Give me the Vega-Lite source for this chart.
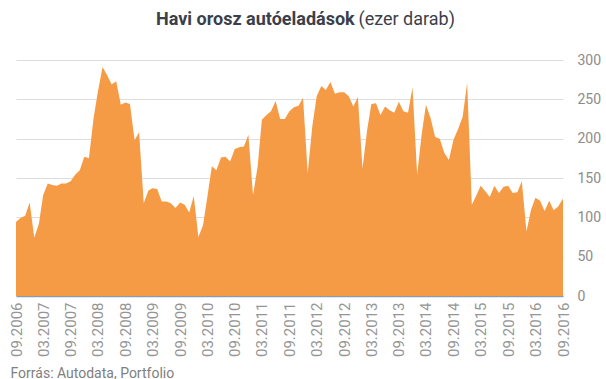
{
  "$schema": "https://vega.github.io/schema/vega-lite/v6.json",
  "autosize": "none",
  "width": 547,
  "height": 236,
  "padding": {"left": 16, "top": 60, "right": 43, "bottom": 83},
  "background": "white",
  "title": {
    "text": "Havi orosz autóeladások",
    "anchor": "start",
    "align": "left",
    "dx": 147,
    "offset": -19,
    "font": "Roboto",
    "fontSize": 18,
    "fontWeight": "bold",
    "color": "#3a3f4a"
  },
  "config": {
    "view": {"stroke": null},
    "font": "Roboto"
  },
  "data": {
    "values": [
      {"d": "2006-09-01", "v": 94}, {"d": "2006-10-01", "v": 99}, {"d": "2006-11-01", "v": 102}, {"d": "2006-12-01", "v": 119},
      {"d": "2007-01-01", "v": 74}, {"d": "2007-02-01", "v": 92}, {"d": "2007-03-01", "v": 128}, {"d": "2007-04-01", "v": 143},
      {"d": "2007-05-01", "v": 141}, {"d": "2007-06-01", "v": 140}, {"d": "2007-07-01", "v": 143}, {"d": "2007-08-01", "v": 143},
      {"d": "2007-09-01", "v": 146}, {"d": "2007-10-01", "v": 154}, {"d": "2007-11-01", "v": 160}, {"d": "2007-12-01", "v": 177},
      {"d": "2008-01-01", "v": 175}, {"d": "2008-02-01", "v": 226}, {"d": "2008-03-01", "v": 260}, {"d": "2008-04-01", "v": 291},
      {"d": "2008-05-01", "v": 281}, {"d": "2008-06-01", "v": 269}, {"d": "2008-07-01", "v": 273}, {"d": "2008-08-01", "v": 243},
      {"d": "2008-09-01", "v": 246}, {"d": "2008-10-01", "v": 244}, {"d": "2008-11-01", "v": 198}, {"d": "2008-12-01", "v": 208},
      {"d": "2009-01-01", "v": 118}, {"d": "2009-02-01", "v": 134}, {"d": "2009-03-01", "v": 137}, {"d": "2009-04-01", "v": 136},
      {"d": "2009-05-01", "v": 120}, {"d": "2009-06-01", "v": 120}, {"d": "2009-07-01", "v": 118}, {"d": "2009-08-01", "v": 112},
      {"d": "2009-09-01", "v": 119}, {"d": "2009-10-01", "v": 116}, {"d": "2009-11-01", "v": 106}, {"d": "2009-12-01", "v": 127},
      {"d": "2010-01-01", "v": 75}, {"d": "2010-02-01", "v": 90}, {"d": "2010-03-01", "v": 125}, {"d": "2010-04-01", "v": 165},
      {"d": "2010-05-01", "v": 160}, {"d": "2010-06-01", "v": 176}, {"d": "2010-07-01", "v": 177}, {"d": "2010-08-01", "v": 171},
      {"d": "2010-09-01", "v": 187}, {"d": "2010-10-01", "v": 189}, {"d": "2010-11-01", "v": 190}, {"d": "2010-12-01", "v": 205},
      {"d": "2011-01-01", "v": 128}, {"d": "2011-02-01", "v": 165}, {"d": "2011-03-01", "v": 224}, {"d": "2011-04-01", "v": 230},
      {"d": "2011-05-01", "v": 235}, {"d": "2011-06-01", "v": 248}, {"d": "2011-07-01", "v": 225}, {"d": "2011-08-01", "v": 225},
      {"d": "2011-09-01", "v": 235}, {"d": "2011-10-01", "v": 240}, {"d": "2011-11-01", "v": 242}, {"d": "2011-12-01", "v": 252},
      {"d": "2012-01-01", "v": 156}, {"d": "2012-02-01", "v": 216}, {"d": "2012-03-01", "v": 254}, {"d": "2012-04-01", "v": 267},
      {"d": "2012-05-01", "v": 262}, {"d": "2012-06-01", "v": 272}, {"d": "2012-07-01", "v": 257}, {"d": "2012-08-01", "v": 259},
      {"d": "2012-09-01", "v": 259}, {"d": "2012-10-01", "v": 254}, {"d": "2012-11-01", "v": 241}, {"d": "2012-12-01", "v": 253},
      {"d": "2013-01-01", "v": 162}, {"d": "2013-02-01", "v": 211}, {"d": "2013-03-01", "v": 244}, {"d": "2013-04-01", "v": 245},
      {"d": "2013-05-01", "v": 230}, {"d": "2013-06-01", "v": 241}, {"d": "2013-07-01", "v": 236}, {"d": "2013-08-01", "v": 233},
      {"d": "2013-09-01", "v": 247}, {"d": "2013-10-01", "v": 235}, {"d": "2013-11-01", "v": 233}, {"d": "2013-12-01", "v": 265},
      {"d": "2014-01-01", "v": 154}, {"d": "2014-02-01", "v": 207}, {"d": "2014-03-01", "v": 243}, {"d": "2014-04-01", "v": 226},
      {"d": "2014-05-01", "v": 202}, {"d": "2014-06-01", "v": 200}, {"d": "2014-07-01", "v": 182}, {"d": "2014-08-01", "v": 173},
      {"d": "2014-09-01", "v": 199}, {"d": "2014-10-01", "v": 212}, {"d": "2014-11-01", "v": 228}, {"d": "2014-12-01", "v": 271},
      {"d": "2015-01-01", "v": 116}, {"d": "2015-02-01", "v": 128}, {"d": "2015-03-01", "v": 140}, {"d": "2015-04-01", "v": 133},
      {"d": "2015-05-01", "v": 126}, {"d": "2015-06-01", "v": 140}, {"d": "2015-07-01", "v": 131}, {"d": "2015-08-01", "v": 139},
      {"d": "2015-09-01", "v": 140}, {"d": "2015-10-01", "v": 131}, {"d": "2015-11-01", "v": 132}, {"d": "2015-12-01", "v": 146},
      {"d": "2016-01-01", "v": 82}, {"d": "2016-02-01", "v": 110}, {"d": "2016-03-01", "v": 125}, {"d": "2016-04-01", "v": 121},
      {"d": "2016-05-01", "v": 108}, {"d": "2016-06-01", "v": 121}, {"d": "2016-07-01", "v": 109}, {"d": "2016-08-01", "v": 114},
      {"d": "2016-09-01", "v": 124}
    ]
  },
  "mark": {"type": "area", "color": "#f59b46", "opacity": 1},
  "encoding": {
    "x": {
      "field": "d",
      "type": "temporal",
      "scale": {"type": "utc", "nice": false},
      "axis": {
        "values": [
          {"year": 2006, "month": 9, "date": 1, "utc": true},
          {"year": 2007, "month": 3, "date": 1, "utc": true},
          {"year": 2007, "month": 9, "date": 1, "utc": true},
          {"year": 2008, "month": 3, "date": 1, "utc": true},
          {"year": 2008, "month": 9, "date": 1, "utc": true},
          {"year": 2009, "month": 3, "date": 1, "utc": true},
          {"year": 2009, "month": 9, "date": 1, "utc": true},
          {"year": 2010, "month": 3, "date": 1, "utc": true},
          {"year": 2010, "month": 9, "date": 1, "utc": true},
          {"year": 2011, "month": 3, "date": 1, "utc": true},
          {"year": 2011, "month": 9, "date": 1, "utc": true},
          {"year": 2012, "month": 3, "date": 1, "utc": true},
          {"year": 2012, "month": 9, "date": 1, "utc": true},
          {"year": 2013, "month": 3, "date": 1, "utc": true},
          {"year": 2013, "month": 9, "date": 1, "utc": true},
          {"year": 2014, "month": 3, "date": 1, "utc": true},
          {"year": 2014, "month": 9, "date": 1, "utc": true},
          {"year": 2015, "month": 3, "date": 1, "utc": true},
          {"year": 2015, "month": 9, "date": 1, "utc": true},
          {"year": 2016, "month": 3, "date": 1, "utc": true},
          {"year": 2016, "month": 9, "date": 1, "utc": true}
        ],
        "labelExpr": "utcFormat(datum.value, '%m.%Y')",
        "labelAngle": 270,
        "labelFontSize": 15,
        "labelColor": "#959595",
        "labelPadding": 6,
        "labelOverlap": false,
        "labelFlush": false,
        "ticks": false,
        "grid": false,
        "domainColor": "#8a9ab0",
        "domainWidth": 1.5,
        "title": "Forrás: Autodata, Portfolio",
        "titleAngle": 0,
        "titleAlign": "left",
        "titleBaseline": "alphabetic",
        "titleX": -6,
        "titleY": 81,
        "titleFontSize": 14,
        "titleFontWeight": "normal",
        "titleColor": "#808080"
      }
    },
    "y": {
      "field": "v",
      "type": "quantitative",
      "scale": {"domain": [0, 300], "nice": false},
      "axis": {
        "orient": "right",
        "values": [0, 50, 100, 150, 200, 250, 300],
        "labelFontSize": 14,
        "labelColor": "#8c8c8c",
        "labelPadding": 14,
        "ticks": false,
        "domain": false,
        "grid": true,
        "gridColor": "#dddddd",
        "title": "(ezer darab)",
        "titleAngle": 0,
        "titleAlign": "left",
        "titleBaseline": "alphabetic",
        "titleX": -205,
        "titleY": -36,
        "titleFontSize": 18,
        "titleFontWeight": "normal",
        "titleColor": "#3a3f4a"
      }
    }
  }
}
